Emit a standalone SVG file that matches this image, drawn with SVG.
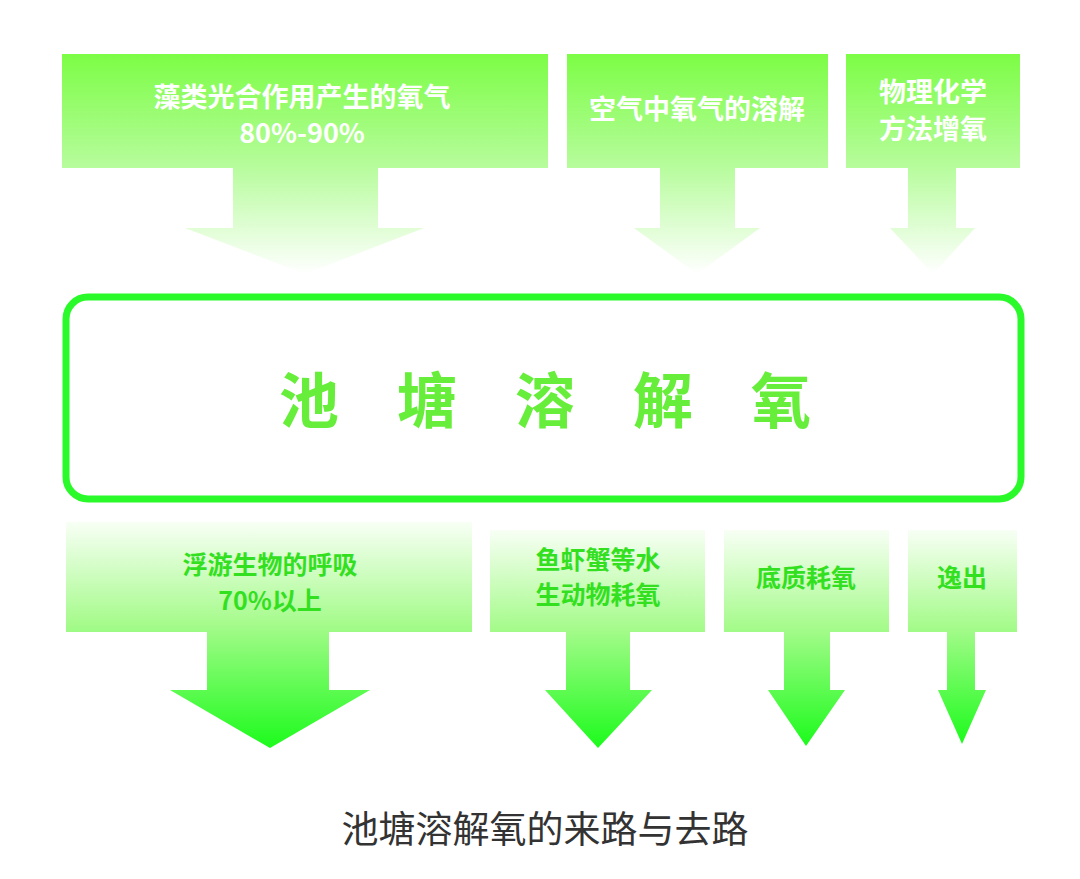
<svg xmlns="http://www.w3.org/2000/svg" width="1080" height="879" viewBox="0 0 1080 879">
<defs>
<linearGradient id="gTop" x1="0" y1="0" x2="0" y2="1">
<stop offset="0" stop-color="#7cfd45"/>
<stop offset="0.5" stop-color="#b5fc9a"/>
<stop offset="1" stop-color="#ffffff"/>
</linearGradient>
<linearGradient id="gBot" x1="0" y1="0" x2="0" y2="1">
<stop offset="0" stop-color="#f8fff5"/>
<stop offset="0.45" stop-color="#a6fb8c"/>
<stop offset="1" stop-color="#1cfb1c"/>
</linearGradient>
<style>
.top{fill:url(#gTop)}
.bot{fill:url(#gBot)}
.tl{font-family:"Noto Sans CJK SC","Liberation Sans",sans-serif;font-weight:bold;font-size:27px;fill:#ffffff;text-anchor:middle}
.bl{font-family:"Noto Sans CJK SC","Liberation Sans",sans-serif;font-weight:bold;font-size:25px;fill:#33e01f;text-anchor:middle}
</style>
</defs>
<rect width="1080" height="879" fill="#ffffff"/>
<g id="src1"><path class="top" d="M62 54H548V168H378V228H424L305 274L185 228H233V168H62Z"/>
<text class="tl" x="302" y="107">藻类光合作用产生的氧气</text><text class="tl" x="302" y="143">80%-90%</text></g>
<g id="src2"><path class="top" d="M567 54H828V168H735V228H760L697 274L634 228H660V168H567Z"/>
<text class="tl" x="697" y="119">空气中氧气的溶解</text></g>
<g id="src3"><path class="top" d="M846 54H1020V168H956V228H975L933 274L890 228H908V168H846Z"/>
<text class="tl" x="933" y="102" font-size="26">物理化学</text><text class="tl" x="933" y="139" font-size="26">方法增氧</text></g>
<g id="pond"><rect x="66" y="297" width="955" height="202" rx="22" fill="#ffffff" stroke="#2afa2a" stroke-width="7"/>
<text x="574" y="423" font-family="Noto Sans CJK SC,sans-serif" font-weight="bold" font-size="60" fill="#66ee3a" text-anchor="middle" letter-spacing="58">池塘溶解氧</text></g>
<g id="snk1"><path class="bot" d="M66 522H472V632H329V690H370L270 748L170 690H207V632H66Z"/>
<text class="bl" x="270" y="574">浮游生物的呼吸</text><text class="bl" x="270" y="610">70%以上</text></g>
<g id="snk2"><path class="bot" d="M490 530H705V632H630V690H652L598 748L545 690H566V632H490Z"/>
<text class="bl" x="598" y="569">鱼虾蟹等水</text><text class="bl" x="598" y="604">生动物耗氧</text></g>
<g id="snk3"><path class="bot" d="M724 530H889V632H830V690H845L806 746L768 690H784V632H724Z"/>
<text class="bl" x="806" y="587">底质耗氧</text></g>
<g id="snk4"><path class="bot" d="M908 530H1017V632H975V690H986L962 744L938 690H947V632H908Z"/>
<text class="bl" x="962" y="587">逸出</text></g>
<g id="connectors"></g>
<text x="545" y="843" font-family="Noto Sans CJK SC,sans-serif" font-size="37" fill="#333333" text-anchor="middle">池塘溶解氧的来路与去路</text>
</svg>
